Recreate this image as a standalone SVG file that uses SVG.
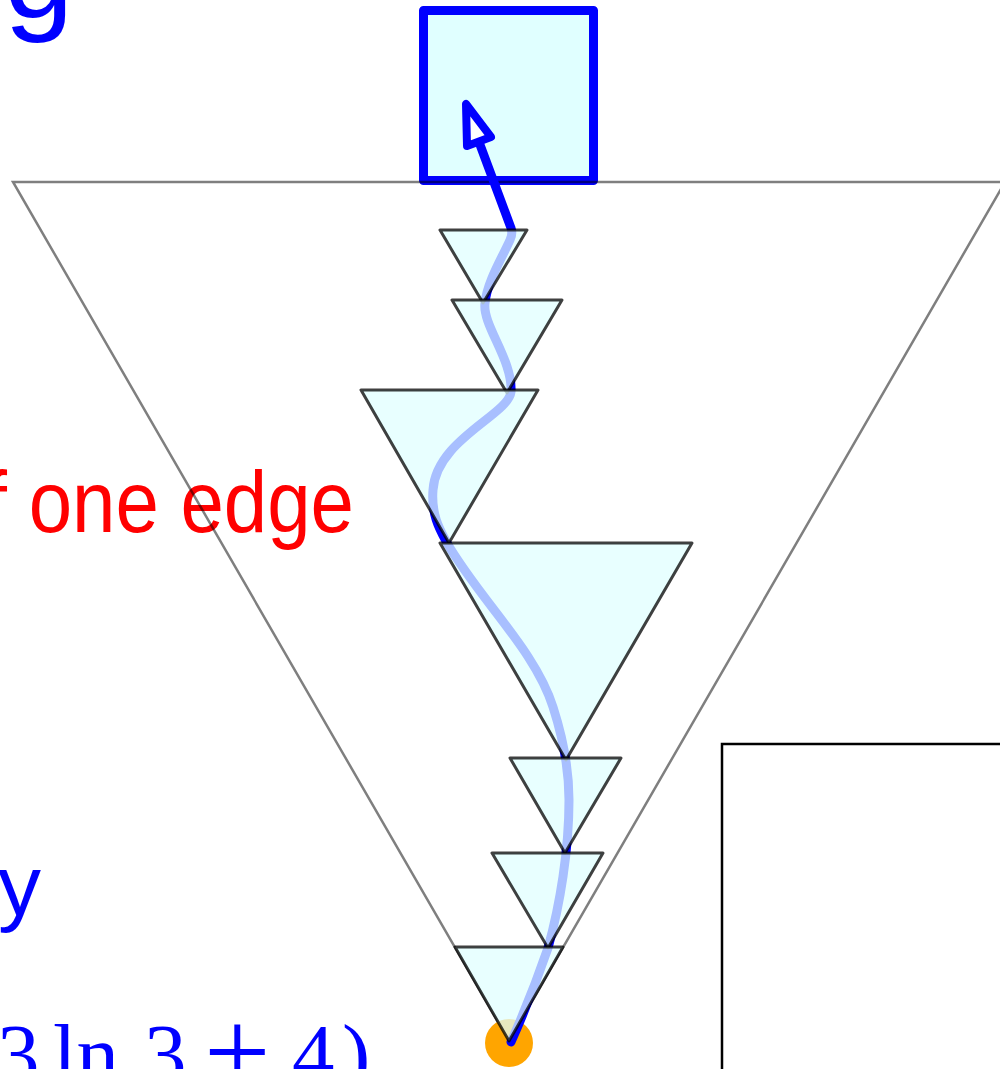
<svg xmlns="http://www.w3.org/2000/svg" width="1000" height="1069" viewBox="0 0 1000 1069">
<style>
.tri{fill:#e0ffff;fill-opacity:0.75;stroke:#000;stroke-opacity:0.75;stroke-width:3;stroke-linejoin:round}
.big{fill:none;stroke:#000;stroke-opacity:0.5;stroke-width:2.5}
.lbl{font-family:"Liberation Sans",Arial,sans-serif}
.math{font-family:"Liberation Serif","Times New Roman",serif;fill:#0000ff}
.edge{fill:none;stroke:#0000ff;stroke-width:9;stroke-linecap:round;stroke-linejoin:round}
</style>
<rect width="1000" height="1069" fill="#ffffff"/>
<g id="texts">
<text class="lbl" x="4" y="17" font-size="125" fill="#0000ff">g</text>
<text class="lbl" x="-58" y="532" font-size="87" fill="#ff0000" textLength="412" lengthAdjust="spacingAndGlyphs">of one edge</text>
<text class="lbl" x="-2" y="915" font-size="86" fill="#0000ff">y</text>
<text class="math" font-size="85" y="1083"><tspan x="-3">3</tspan><tspan x="53">ln</tspan><tspan x="144">3</tspan><tspan x="204" y="1092" font-size="118">+</tspan><tspan x="292" y="1083">4</tspan><tspan x="342" y="1083">)</tspan></text>
</g>
<g id="node-box">
<rect x="423.5" y="10.5" width="170" height="170" fill="#e0ffff" stroke="#0000ff" stroke-width="9" stroke-linejoin="round"/>
</g>
<g id="node-outer">
<polygon class="big" points="13,182 1005,182 509,1041"/>
</g>
<g id="node-root">
<circle cx="509" cy="1043" r="24" fill="#ffa500"/>
</g>
<g id="connectors">
<path class="edge" d="M 479 142 L 511 228 Q 513 234 510 240 C 502 258, 487 282, 485 303 C 482 325, 513 360, 511 392 C 508 415, 436 440, 433 490 C 431 515, 440 530, 447 543 C 480 600, 535 650, 553 707 C 562 735, 569 765, 569 800 C 569 850, 560 905, 548 948 C 537 980, 523 1015, 511 1042"/>
<polygon points="466,104 467,146 491,137" fill="#ffffff" stroke="#0000ff" stroke-width="8" stroke-linejoin="round"/>
</g>
<g id="node-t1"><polygon class="tri" points="440,230 527,230 483,303"/></g>
<g id="node-t2"><polygon class="tri" points="452,300 562,300 507,393"/></g>
<g id="node-t3"><polygon class="tri" points="361,390 538,390 449,543"/></g>
<g id="node-t4"><polygon class="tri" points="440,543 692,543 566,760"/></g>
<g id="node-t5"><polygon class="tri" points="510,758 621,758 565,853"/></g>
<g id="node-t6"><polygon class="tri" points="492,853 603,853 548,948"/></g>
<g id="node-t7"><polygon class="tri" points="455,947 563,947 509,1041"/></g>
<g id="node-rect">
<rect x="722" y="744" width="300" height="340" fill="none" stroke="#000000" stroke-width="2.5"/>
</g>
</svg>
